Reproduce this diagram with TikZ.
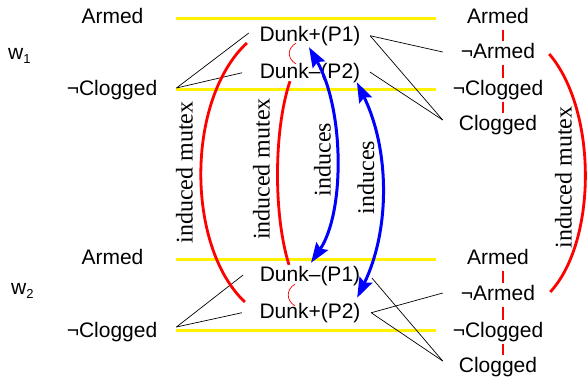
\documentclass[tikz,border=0pt]{standalone}
\usepackage{fontspec}
\setmainfont{Liberation Sans}
\newfontfamily\serifl{Liberation Serif}
\usetikzlibrary{arrows.meta}
\begin{document}
\begin{tikzpicture}[x=1pt,y=-1pt,
  lab/.style={font=\fontsize{21}{25}\selectfont, inner sep=0pt, text height=15pt, text depth=4.5pt, anchor=base},
  rot/.style={font=\serifl\fontsize{24}{28}\selectfont, rotate=90, inner sep=0pt},
  yel/.style={yellow, line width=3pt},
  blk/.style={black, line width=0.7pt},
  mut/.style={red, line width=2.8pt},
  mutthin/.style={red, line width=0.7pt},
  rdash/.style={red, line width=1.1pt, shorten <=2pt, shorten >=2pt},
  ind/.style={blue, line width=3pt, {Stealth[length=20pt,width=14pt,inset=3pt]}-{Stealth[length=20pt,width=14pt,inset=3pt]}}
]
\useasboundingbox (0,0) rectangle (587,376);
% yellow lines
\draw[yel] (176,18) -- (436,18);
\draw[yel] (176,89.5) -- (436,89.5);
\draw[yel] (176,259.5) -- (436,259.5);
\draw[yel] (176,330.5) -- (436,330.5);
% top world
\node[lab] (lA1) at (112.5,23) {Armed};
\node[lab, anchor=base west] (w1) at (8,59) {w\raisebox{-4pt}{\fontsize{13}{13}\selectfont 1}};
\node[lab] (lC1) at (112,95) {¬Clogged};
\node[lab] (d11) at (310,41) {Dunk+(P1)};
\node[lab] (d12) at (310,78) {Dunk–(P2)};
\node[lab] (rA1) at (498,23) {Armed};
\node[lab] (rnA1) at (498,58) {¬Armed};
\node[lab] (rnC1) at (498,95) {¬Clogged};
\node[lab] (rC1) at (498,130) {Clogged};
% bottom world
\node[lab] (lA2) at (112.5,264) {Armed};
\node[lab, anchor=base west] (w2) at (11,294) {w\raisebox{-4pt}{\fontsize{13}{13}\selectfont 2}};
\node[lab] (lC2) at (112,337) {¬Clogged};
\node[lab] (d21) at (310,281) {Dunk–(P1)};
\node[lab] (d22) at (310,318) {Dunk+(P2)};
\node[lab] (rA2) at (498,264) {Armed};
\node[lab] (rnA2) at (498,300) {¬Armed};
\node[lab] (rnC2) at (498,337) {¬Clogged};
\node[lab] (rC2) at (498,372) {Clogged};
% black connectors
\draw[blk] ([shift={(19,-1.75)}]lC1.east) -- ([shift={(-10.5,-2.75)}]d11.west);
\draw[blk] ([shift={(19,-1.75)}]lC1.east) -- ([shift={(-17.5,0)}]d12.west);
\draw[blk] ([shift={(9.5,0)}]d11.east) -- ([shift={(-18,-0.75)}]rnA1.west);
\draw[blk] ([shift={(9.5,0)}]d11.east) -- ([shift={(-16,-4.75)}]rC1.west);
\draw[blk] ([shift={(9.5,-0.75)}]d12.east) -- ([shift={(-16,-4.75)}]rC1.west);
\draw[blk] ([shift={(19,-4.75)}]lC2.east) -- ([shift={(-16.5,-0.75)}]d21.west);
\draw[blk] ([shift={(19,-4.75)}]lC2.east) -- ([shift={(-17.5,0)}]d22.west);
\draw[blk] ([shift={(11.5,2.25)}]d21.east) -- ([shift={(-16,-5.75)}]rC2.west);
\draw[blk] ([shift={(10.5,0)}]d22.east) -- ([shift={(-18,-1.75)}]rnA2.west);
\draw[blk] ([shift={(10.5,0)}]d22.east) -- ([shift={(-16,-5.75)}]rC2.west);
% red dashes on the right
\draw[rdash] ([xshift=5pt]rA1.south) -- ([xshift=5pt]rnA1.north);
\draw[rdash] ([xshift=5pt]rnA1.south) -- ([xshift=5pt]rnC1.north);
\draw[rdash] ([xshift=5pt]rnC1.south) -- ([xshift=5pt]rC1.north);
\draw[rdash] ([xshift=5pt]rA2.south) -- ([xshift=5pt]rnA2.north);
\draw[rdash] ([xshift=5pt]rnA2.south) -- ([xshift=5pt]rnC2.north);
\draw[rdash] ([xshift=5pt]rnC2.south) -- ([xshift=5pt]rC2.north);
% red mutex arcs
\draw[mut] ([shift={(-12.5,7.25)}]d11.west) .. controls +(-61,57) and +(-59,-56) .. ([shift={(-14.5,-10.75)}]d22.west);
\draw[mut] ([shift={(-20,-1.5)}]d12.south) .. controls +(-16.5,49) and +(-15.5,-49) .. ([shift={(-21,-1)}]d21.north);
\draw[mutthin] ([shift={(-14,-2.5)}]d11.south) .. controls +(-9,5) and +(-9,-5) .. ([shift={(-14,1)}]d12.north);
\draw[mutthin] ([shift={(-15,-1.5)}]d21.south) .. controls +(-9,5) and +(-9,-5) .. ([shift={(-15,3)}]d22.north);
\draw[mut] ([shift={(14,1.25)}]rnA1.east) .. controls +(48,56) and +(47,-51) .. ([shift={(15,-2.75)}]rnA2.east);
% blue induces arrows
\draw[ind] ([shift={(-1,1.5)}]d11.south) .. controls +(35.7,63) and +(33.7,-50) .. ([shift={(1,-3)}]d21.north);
\draw[ind] ([shift={(-3.5,-0.5)}]d12.south east) .. controls +(33,68) and +(33,-68) .. ([shift={(-3.5,-5)}]d22.north east);
% rotated labels
\node[rot] (im1) at (184.5,172.5) {induced mutex};
\node[rot] (im2) at (261.5,169) {induced mutex};
\node[rot] (in1) at (322.5,159.5) {induces};
\node[rot] (in2) at (366,177.5) {induces};
\node[rot] (im3) at (563.5,177.5) {induced mutex};
\end{tikzpicture}
\end{document}
